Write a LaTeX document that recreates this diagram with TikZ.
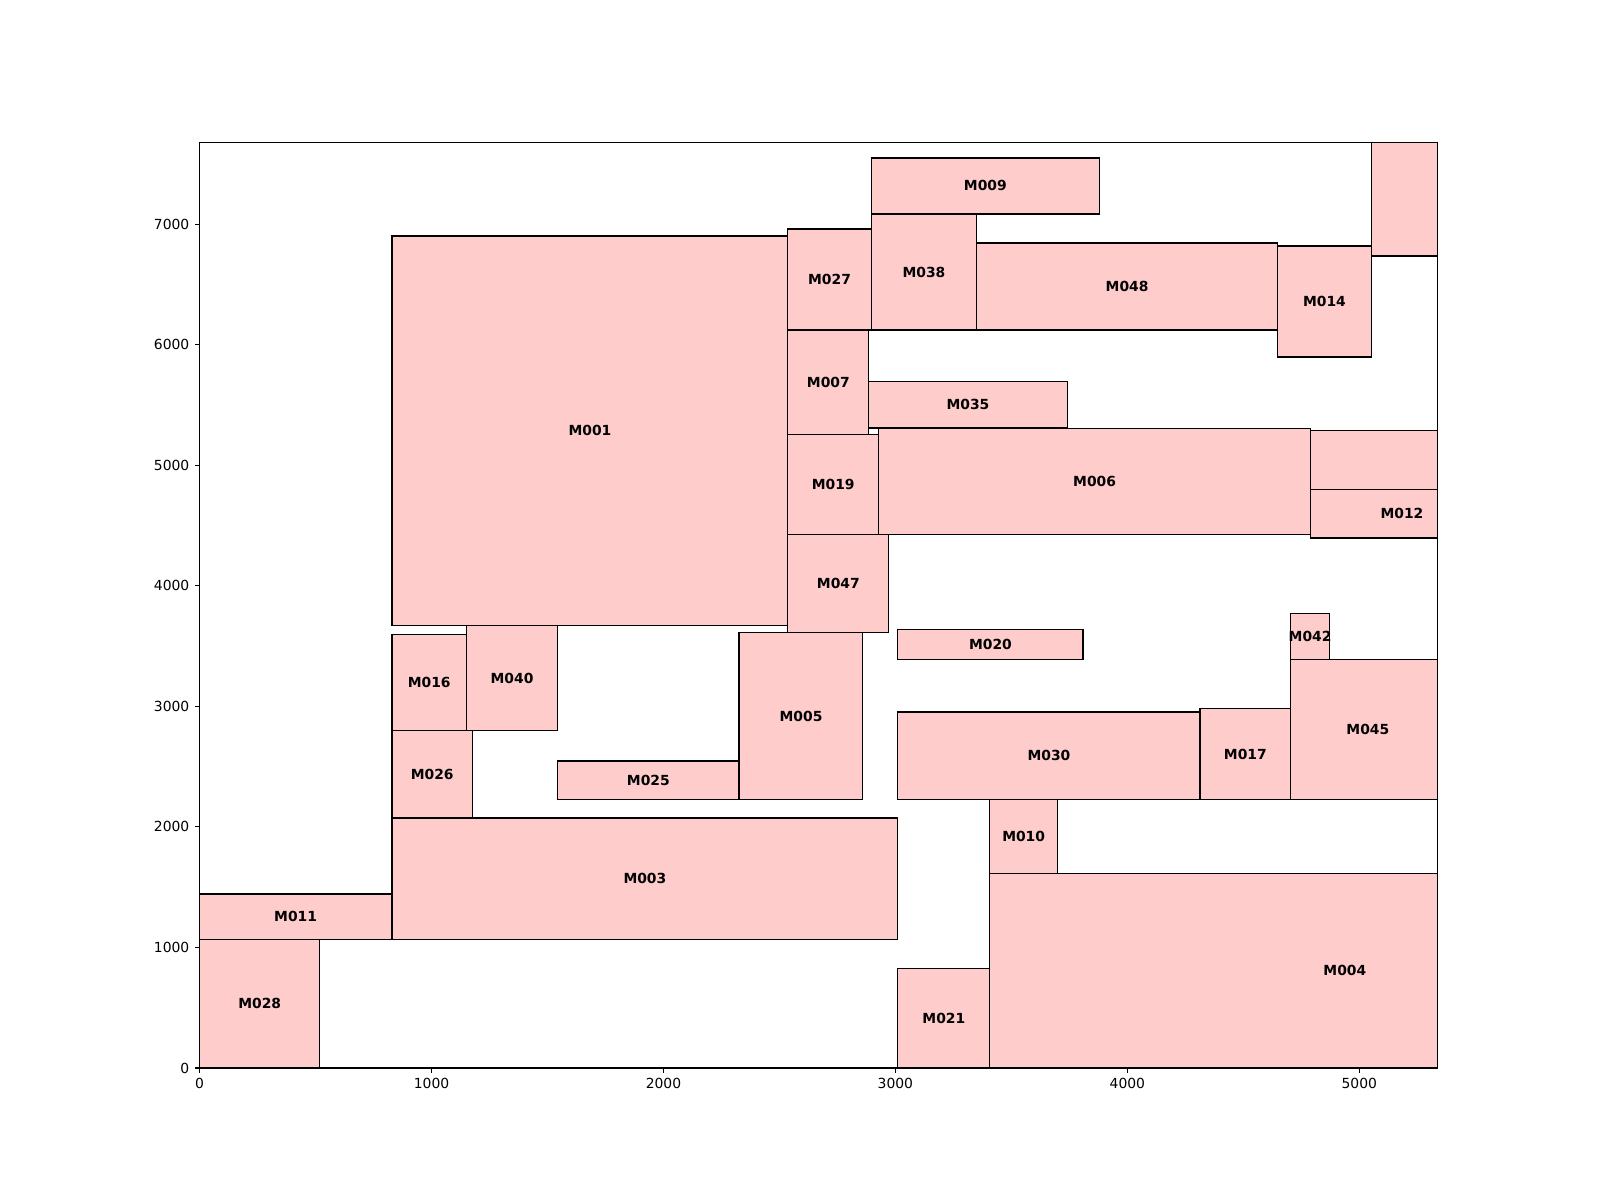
\documentclass[tikz,border=0pt]{standalone}
\usepackage{fontspec}
\setmainfont{DejaVu Sans}
\definecolor{blockfill}{RGB}{255,204,204}
\tikzset{
  blk/.style={draw=black, fill=blockfill, line width=1bp},
  lbl/.style={font=\fontsize{10bp}{12bp}\selectfont\bfseries, inner sep=0pt},
  axisframe/.style={draw=black, line width=0.8bp},
  tickmark/.style={line width=0.8bp},
  ticklbl/.style={font=\fontsize{10bp}{12bp}\selectfont, inner sep=0pt},
}
\begin{document}
\begin{tikzpicture}[x=0.002325in, y=0.0012036in]
\useasboundingbox (-1.996in,-1.32in) rectangle (14.004in,10.68in);
% blocks, clipped to the axes
\begin{scope}
\clip (0,0) rectangle (5336,7677);
\draw[blk] (0,0) rectangle (518,1065);
\draw[blk] (0,1065) rectangle (829,1443);
\draw[blk] (829,1065) rectangle (3010,2075);
\draw[blk] (829,2075) rectangle (1177,2800);
\draw[blk] (829,2800) rectangle (1151,3595);
\draw[blk] (1151,2800) rectangle (1543,3670);
\draw[blk] (829,3670) rectangle (2536,6902);
\draw[blk] (1543,2227) rectangle (2326,2548);
\draw[blk] (2326,2227) rectangle (2859,3612);
\draw[blk] (2536,3612) rectangle (2971,4428);
\draw[blk] (2536,4428) rectangle (2928,5254);
\draw[blk] (2536,5254) rectangle (2885,6121);
\draw[blk] (2536,6121) rectangle (2896,6960);
\draw[blk] (2896,6121) rectangle (3349,7085);
\draw[blk] (2896,7085) rectangle (3880,7550);
\draw[blk] (3349,6121) rectangle (4648,6843);
\draw[blk] (4648,5898) rectangle (5052,6819);
\draw[blk] (5053,6738) rectangle (5600,8000);
\draw[blk] (2885,5309) rectangle (3741,5697);
\draw[blk] (2928,4428) rectangle (4790,5304);
\draw[blk] (4790,4800) rectangle (6000,5287);
\draw[blk] (4790,4398) rectangle (5578,4800);
\draw[blk] (3010,3387) rectangle (3809,3637);
\draw[blk] (4704,3387) rectangle (4872,3770);
\draw[blk] (4704,2227) rectangle (5370,3387);
\draw[blk] (3010,2227) rectangle (4313,2955);
\draw[blk] (4313,2227) rectangle (4704,2983);
\draw[blk] (3407,1612) rectangle (3698,2227);
\draw[blk] (3407,0) rectangle (6469,1612);
\draw[blk] (3010,0) rectangle (3407,823);
\end{scope}
% block names
\node[lbl] (m028) at (259,532) {M028};
\node[lbl] (m011) at (414,1254) {M011};
\node[lbl] (m003) at (1920,1570) {M003};
\node[lbl] (m026) at (1003,2438) {M026};
\node[lbl] (m016) at (990,3198) {M016};
\node[lbl] (m040) at (1347,3235) {M040};
\node[lbl] (m001) at (1683,5286) {M001};
\node[lbl] (m025) at (1935,2388) {M025};
\node[lbl] (m005) at (2593,2920) {M005};
\node[lbl] (m047) at (2754,4020) {M047};
\node[lbl] (m019) at (2732,4841) {M019};
\node[lbl] (m007) at (2711,5688) {M007};
\node[lbl] (m027) at (2716,6541) {M027};
\node[lbl] (m038) at (3123,6603) {M038};
\node[lbl] (m009) at (3388,7318) {M009};
\node[lbl] (m048) at (3999,6482) {M048};
\node[lbl] (m014) at (4850,6359) {M014};
\node[lbl] (m035) at (3313,5503) {M035};
\node[lbl] (m006) at (3859,4866) {M006};
\node[lbl] (m012) at (5184,4599) {M012};
\node[lbl] (m020) at (3410,3512) {M020};
\node[lbl] (m042) at (4788,3579) {M042};
\node[lbl] (m045) at (5037,2807) {M045};
\node[lbl] (m030) at (3662,2591) {M030};
\node[lbl] (m017) at (4509,2605) {M017};
\node[lbl] (m010) at (3553,1920) {M010};
\node[lbl] (m004) at (4938,806) {M004};
\node[lbl] (m021) at (3209,412) {M021};
% axes and ticks
\draw[axisframe] (0,0) rectangle (5336,7677);
\foreach \t in {0,1000,...,5000}
  \draw[tickmark] (\t,0) -- ++(0,-3.5bp) node[ticklbl, anchor=north, yshift=-3.5bp] (xt\t) {\t};
\foreach \t in {0,1000,...,7000}
  \draw[tickmark] (0,\t) -- ++(-3.5bp,0) node[ticklbl, anchor=east, xshift=-3.5bp] (yt\t) {\t};
\end{tikzpicture}
\end{document}
